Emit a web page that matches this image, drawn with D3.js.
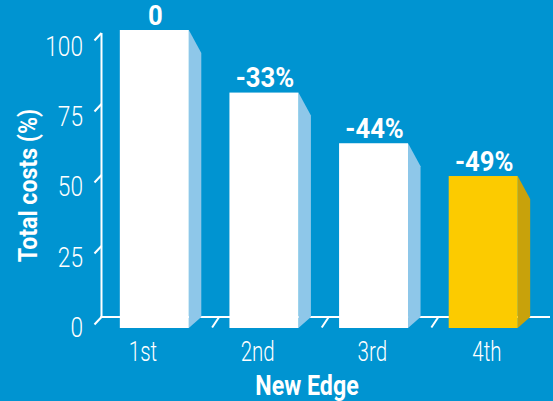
<!DOCTYPE html>
<html><head><meta charset="utf-8">
<script src="https://cdn.jsdelivr.net/npm/d3@7"></script>
<style>html,body{margin:0;padding:0;background:#0094d1;}svg{display:block;}</style>
</head><body>
<svg id="c" width="553" height="401"></svg>
<script>
const categories = ["1st", "2nd", "3rd", "4th"];
const values = [100, 79, 62, 51];
const valueLabels = ["0", "-33%", "-44%", "-49%"];
const highlight = [false, false, false, true];
const yTicks = [0, 25, 50, 75, 100];
const yTitle = "Total costs (%)";
const xTitle = "New Edge";

const W = 553, H = 401;
const svg = d3.select("#c");
svg.append("rect").attr("width", W).attr("height", H).attr("fill", "#0094d1");

const pIn = 0.3708;
const x = d3.scaleBand().domain(categories).range([99.5, 538]).paddingInner(pIn).paddingOuter(pIn / 2);
const yFront = d3.scaleLinear().domain([0, 100]).range([328, 30]);
const yBack = d3.scaleLinear().domain([0, 100]).range([317, 33]);
const yLabel = d3.scaleLinear().domain([0, 100]).range([337, 55.5]);
const xLabel = d3.scalePoint().domain(categories).range([143, 487]);

const axisX = 101.5;
const depthX = 12.5, depthY = 11, topDrop = 23;

function ctext(g, str, px, py, size, weight, anchor, sx) {
  const t = g.append("g").attr("transform", `translate(${px},${py}) scale(${sx},1)`)
    .append("text").attr("x", 0).attr("y", 0)
    .attr("font-family", "Roboto, 'Noto Sans', sans-serif")
    .attr("font-size", size).attr("font-weight", weight)
    .attr("fill", "#fff").attr("text-anchor", anchor).text(str);
  return t;
}

// back wall axis line and floor line
const axisG = svg.append("g");
axisG.append("line").attr("x1", axisX).attr("x2", axisX).attr("y1", yBack(100)).attr("y2", yBack(0))
  .attr("stroke", "#fff").attr("stroke-width", 2);
axisG.append("line").attr("x1", axisX - 1).attr("x2", 550).attr("y1", yBack(0)).attr("y2", yBack(0))
  .attr("stroke", "#fff").attr("stroke-width", 2);
// y ticks (slanted depth ticks)
yTicks.forEach(v => {
  axisG.append("line").attr("x1", axisX).attr("y1", yBack(v)).attr("x2", axisX - 7).attr("y2", yBack(v) + 7.5)
    .attr("stroke", "#fff").attr("stroke-width", 2);
  ctext(axisG, String(v), 83, yLabel(v), 27, 300, "end", 0.84);
});
// floor category boundary ticks
const step = x.step();
categories.slice(1).forEach(c => {
  const b = x(c) - step * pIn / 2 + 3;
  axisG.append("line").attr("x1", b).attr("y1", yFront(0) - 0.5).attr("x2", b + 7).attr("y2", yBack(0))
    .attr("stroke", "#fff").attr("stroke-width", 2);
});

// bars
const bars = svg.append("g");
categories.forEach((c, i) => {
  const x0 = x(c), x1 = x0 + x.bandwidth();
  const top = yFront(values[i]), bot = yFront(0);
  const front = highlight[i] ? "#fccb00" : "#ffffff";
  const side = highlight[i] ? "#c8a20b" : "#8ec7e9";
  bars.append("path")
    .attr("d", `M${x1},${top} L${x1 + depthX},${top + topDrop} L${x1 + depthX},${bot - depthY} L${x1},${bot} Z`)
    .attr("fill", side);
  bars.append("rect").attr("x", x0).attr("y", top).attr("width", x.bandwidth()).attr("height", bot - top)
    .attr("fill", front);
  ctext(bars, valueLabels[i], x0 + x.bandwidth() / 2 + 1, top - 5.5, 28.5, 700, "middle", 0.9);
  ctext(bars, c, xLabel(c), 361, 27, 300, "middle", 0.76);
});

// titles
svg.append("g").attr("transform", "translate(36.5,185.5) rotate(-90)")
  .append("text").attr("font-family", "Roboto, 'Noto Sans', sans-serif").attr("font-size", 26)
  .attr("font-weight", 700).attr("fill", "#fff").attr("text-anchor", "middle")
  .attr("transform", "scale(0.89,1)").text(yTitle);
ctext(svg, xTitle, 307, 395, 27, 700, "middle", 0.86);
</script>
</body></html>
